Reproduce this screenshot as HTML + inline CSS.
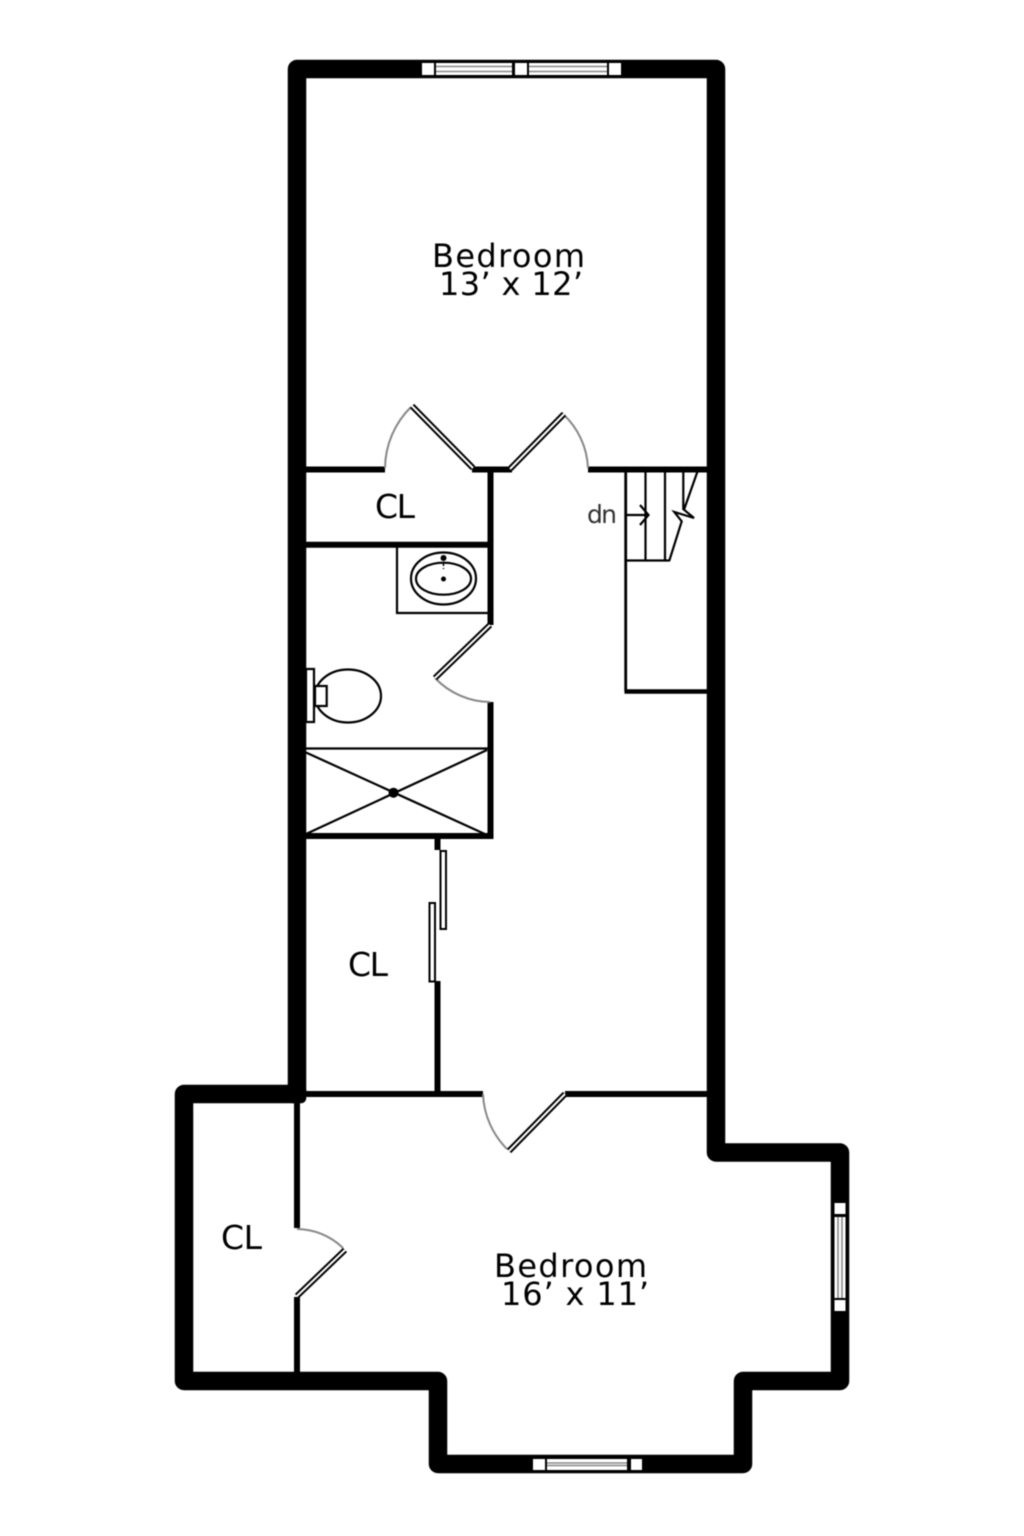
<!DOCTYPE html>
<html><head><meta charset="utf-8"><style>
html,body{margin:0;padding:0;background:#fff}
svg{display:block;filter:blur(0.5px)}
text{font-family:"DejaVu Sans","Liberation Sans",sans-serif;fill:#000}
.dr{fill:none;stroke:#000;stroke-width:6}
.dw{fill:none;stroke:#fff;stroke-width:2}
.arc{fill:none;stroke:#888;stroke-width:2}
.w{fill:none;stroke:#000;stroke-width:6}
.t{fill:none;stroke:#000;stroke-width:2.2}
.sq{fill:#fff}
.g{stroke:#888;stroke-width:1.6;fill:none}
</style></head><body>
<svg width="1024" height="1536" viewBox="0 0 1024 1536" xmlns="http://www.w3.org/2000/svg">
<rect width="1024" height="1536" fill="#fff"/>
<!-- outer walls -->
<path d="M297 1094V69H716V1152.500H840V1381H743V1464H438V1381H184V1094H297" fill="none" stroke="#000" stroke-width="18.500" stroke-linejoin="round"/>
<rect x="287.750" y="1084.750" width="18.500" height="18.500" rx="5" fill="#000"/>
<!-- top window -->
<rect class="sq" x="422" y="63" width="12" height="12"/><rect class="sq" x="436" y="63" width="76" height="12"/>
<rect class="sq" x="515" y="63" width="12" height="12"/><rect class="sq" x="529" y="63" width="78" height="12"/>
<rect class="sq" x="609" y="63" width="12" height="12"/>
<path class="g" d="M436 66.500H512M436 71.500H512M529 66.500H607M529 71.500H607"/>
<!-- right window -->
<rect class="sq" x="834.500" y="1203" width="11" height="11"/><rect class="sq" x="834.500" y="1217" width="11" height="81"/>
<rect class="sq" x="834.500" y="1300" width="11" height="11"/>
<path class="g" d="M838 1217V1298M842 1217V1298"/>
<!-- bottom window -->
<rect class="sq" x="533" y="1459" width="12" height="11"/><rect class="sq" x="547" y="1459" width="80" height="11"/>
<rect class="sq" x="631" y="1459" width="11" height="11"/>
<path class="g" d="M547 1463H627M547 1465.500H627"/>
<!-- interior walls -->
<path class="w" d="M306 469.500H385M472 469.500H512M588 469.500H707M490.500 469V625M490.500 702V836M306 544.700H490M306 836H493.500M437.500 836V850M437.500 981V1094M306 1094H483M565 1094H707M297 1100V1228M297 1297V1373"/>
<!-- doors -->
<path class="arc" d="M385 468A87 87 0 0 1 411 407"/>
<path class="dr" d="M412 406L473 468"/><path class="dw" d="M412 406L473 468"/>
<path class="arc" d="M563 414A78 78 0 0 1 588 468"/>
<path class="dr" d="M564 414L510 469"/><path class="dw" d="M564 414L510 469"/>
<path class="arc" d="M435 678A77 77 0 0 0 490 702"/>
<path class="dr" d="M490 625L435 678"/><path class="dw" d="M490 625L435 678"/>
<path class="arc" d="M483 1094A82 82 0 0 0 507 1149"/>
<path class="dr" d="M565 1094L509 1151"/><path class="dw" d="M565 1094L509 1151"/>
<path class="arc" d="M297 1229A67 67 0 0 1 343 1248"/>
<path class="dr" d="M345 1250L297 1296"/><path class="dw" d="M345 1250L297 1296"/>
<!-- sink -->
<path class="t" d="M397 547V613H488"/>
<ellipse class="t" cx="443.500" cy="578.500" rx="32.500" ry="26"/>
<ellipse class="t" cx="443.500" cy="578.700" rx="27.500" ry="16"/>
<circle cx="443.500" cy="558" r="3"/><path d="M443.500 558V569" stroke="#000" stroke-width="1.500" stroke-dasharray="3 2"/>
<circle cx="443.500" cy="579" r="2.500"/>
<!-- toilet -->
<rect class="t" x="306" y="669" width="8" height="53" fill="#fff"/>
<ellipse class="t" cx="348" cy="696" rx="33" ry="26.500"/>
<rect x="315" y="686" width="11.700" height="20" fill="#fff" stroke="#000" stroke-width="2.200"/>
<!-- shower -->
<path class="t" d="M306 748.500H488M306 752.500L487 835M306 834L487 750"/>
<circle cx="393.500" cy="792.700" r="5"/>
<!-- sliding doors -->
<rect x="440.500" y="851" width="5.500" height="78" fill="#fff" stroke="#000" stroke-width="2"/>
<rect x="429.500" y="903" width="5.500" height="78.500" fill="#fff" stroke="#000" stroke-width="2"/>
<!-- stairs -->
<path d="M625.700 472V692" stroke="#000" stroke-width="2.800" fill="none"/>
<path d="M624.500 691.500H707" stroke="#000" stroke-width="4.500" fill="none"/>
<path d="M645.500 472V561M665 472V561M683.300 472V510M625.700 560.500H670" class="t"/>
<path d="M697.300 472L684 509.700L694 518L674.300 512L681.700 521.300L669.300 560.700" class="t"/>
<path d="M626 515H648M640 505L648.500 515L640 525" class="t"/>
<!-- labels -->
<text x="432" y="267" font-size="32" textLength="153">Bedroom</text>
<text x="439" y="295" font-size="32" textLength="144">13’ x 12’</text>
<text x="494" y="1277" font-size="32" textLength="153">Bedroom</text>
<text x="501" y="1305" font-size="32" textLength="148">16’ x 11’</text>
<text x="375" y="518" font-size="33" textLength="40">CL</text>
<text x="348" y="976" font-size="33" textLength="40">CL</text>
<text x="221" y="1249" font-size="33" textLength="41">CL</text>
<text x="587" y="523" font-size="25" textLength="30" style="fill:#333">dn</text>
</svg>
</body></html>
